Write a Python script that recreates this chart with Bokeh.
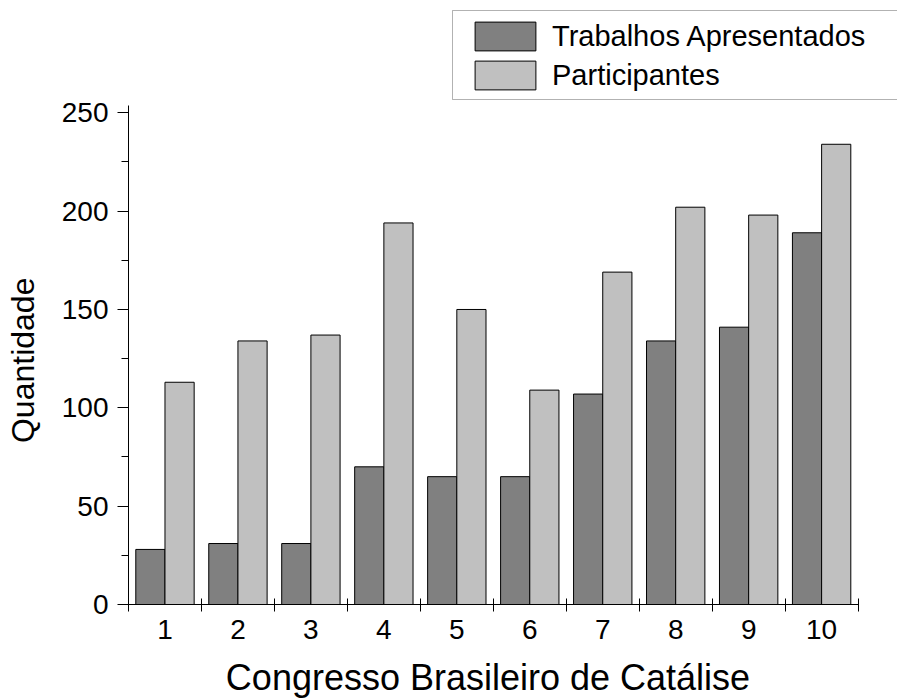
from bokeh.plotting import figure
from bokeh.models import (ColumnDataSource, FixedTicker, Range1d, Legend,
                          LegendItem, BoxAnnotation)
from bokeh.transform import dodge
from bokeh.embed import file_html
from bokeh.resources import INLINE

# ---- data ----
congressos = ["1", "2", "3", "4", "5", "6", "7", "8", "9", "10"]
trabalhos = [28, 31, 31, 70, 65, 65, 107, 134, 141, 189]
participantes = [113, 134, 137, 194, 150, 109, 169, 202, 198, 234]
y_ticks = [0, 50, 100, 150, 200, 250]
y_minor_ticks = [25, 75, 125, 175, 225]
serie_nomes = ["Trabalhos Apresentados", "Participantes"]
x_label = "Congresso Brasileiro de Catálise"
y_label = "Quantidade"

FONT = "Liberation Sans"
NBSP = "\u00a0"
xpos = list(range(1, len(congressos) + 1))
bounds = [i + 0.5 for i in range(0, len(congressos) + 1)]

src = ColumnDataSource(dict(x=xpos, trab=trabalhos, part=participantes))

# frame spans the whole upper-right area so the legend (above the axes) is
# not clipped; axis lines are limited with `bounds`
p = figure(width=897, height=700, output_backend="svg", toolbar_location=None,
           x_range=Range1d(0.5, 11.04),
           y_range=Range1d(0, 307.1),
           min_border_left=128, min_border_right=0,
           min_border_top=0, min_border_bottom=96,
           background_fill_color="white", border_fill_color="white")
p.outline_line_color = None
p.xgrid.visible = False
p.ygrid.visible = False

r1 = p.vbar(x=dodge("x", -0.2), top="trab", width=0.4, source=src,
            fill_color="#808080", line_color="black", line_width=1)
r2 = p.vbar(x=dodge("x", 0.2), top="part", width=0.4, source=src,
            fill_color="#c0c0c0", line_color="black", line_width=1)

# x axis: labels at category centres, ticks at category boundaries
xa = p.xaxis[0]
xa.bounds = (0.5, len(congressos) + 0.5)
xa.ticker = FixedTicker(ticks=xpos, minor_ticks=bounds)
xa.major_label_overrides = {i: c for i, c in zip(xpos, congressos)}
xa.major_tick_in = 0
xa.major_tick_out = 0
xa.minor_tick_in = 6
xa.minor_tick_out = 7
xa.minor_tick_line_color = "black"
xa.axis_line_color = "black"
xa.major_label_text_font = FONT
xa.major_label_text_font_size = "28px"
xa.major_label_text_color = "black"
xa.major_label_standoff = 8
# trailing no-break spaces centre the title under the axis rather than the frame
xa.axis_label = x_label + NBSP * 5
xa.axis_label_text_font = FONT
xa.axis_label_text_font_size = "36px"
xa.axis_label_text_font_style = "normal"
xa.axis_label_text_color = "black"
xa.axis_label_standoff = 15

ya = p.yaxis[0]
ya.bounds = (0, 253.7)
ya.ticker = FixedTicker(ticks=y_ticks, minor_ticks=y_minor_ticks)
ya.major_tick_in = 0
ya.major_tick_out = 11
ya.minor_tick_in = 0
ya.minor_tick_out = 7
ya.major_tick_line_color = "black"
ya.minor_tick_line_color = "black"
ya.axis_line_color = "black"
ya.major_label_text_font = FONT
ya.major_label_text_font_size = "28px"
ya.major_label_text_color = "black"
ya.major_label_standoff = 9
ya.axis_label = y_label + NBSP * 13
ya.axis_label_text_font = FONT
ya.axis_label_text_font_size = "32px"
ya.axis_label_text_font_style = "normal"
ya.axis_label_text_color = "black"
ya.axis_label_standoff = 18

# legend frame (runs past the right edge as in the reference)
box = BoxAnnotation(left=324, right=2000, bottom=505, top=594,
                    left_units="screen", right_units="screen",
                    bottom_units="screen", top_units="screen",
                    fill_color="white", fill_alpha=1.0,
                    line_color="black", line_width=1)
p.add_layout(box)

legend = Legend(items=[LegendItem(label=serie_nomes[0], renderers=[r1]),
                       LegendItem(label=serie_nomes[1], renderers=[r2])],
                location=(339, 511), padding=5, spacing=3, margin=0,
                glyph_width=76, glyph_height=36, label_height=36,
                label_standoff=9, label_text_font=FONT,
                label_text_font_size="29px", label_text_color="black",
                border_line_color=None, background_fill_alpha=0)
p.add_layout(legend)

open("out.html", "w").write(file_html(p, INLINE))
